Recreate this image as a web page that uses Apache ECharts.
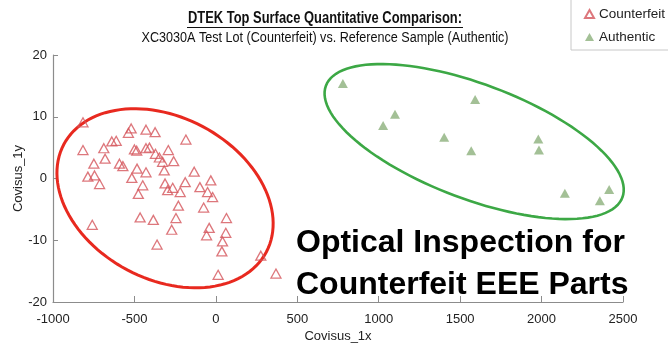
<!DOCTYPE html>
<html>
<head>
<meta charset="utf-8">
<script src="https://cdn.jsdelivr.net/npm/echarts@6/dist/echarts.min.js"></script>
<style>
html,body{margin:0;padding:0;background:#fff;}
#chart{width:668px;height:347px;}
</style>
</head>
<body>
<div id="chart"></div>
<script>
// ---- data ----
var counterfeit = [
  [-816,9.1],[-520,8.1],[-537,7.4],[-429,7.9],[-373,7.5],[-184,6.3],[-639,6.0],[-612,6.1],
  [-816,4.6],[-688,4.9],[-500,4.7],[-486,4.5],[-429,4.9],[-408,5.0],[-292,4.6],[-371,4.0],
  [-347,3.4],[-327,2.7],[-259,2.8],[-680,3.2],[-749,2.4],[-592,2.4],[-571,2.0],[-484,1.6],
  [-429,1.0],[-317,1.3],[-133,1.1],[-786,0.3],[-745,0.5],[-714,-0.9],[-516,0.1],[-449,-1.1],
  [-476,-2.5],[-312,-0.8],[-296,-1.9],[-265,-1.5],[-219,-2.2],[-188,-0.6],[-98,-1.4],[-51,-2.2],
  [-31,-0.3],[-20,-3.0],[-230,-4.4],[-75,-4.7],[-759,-7.5],[-465,-6.3],[-384,-6.7],[-245,-6.4],
  [-271,-8.3],[-361,-10.7],[-41,-8.0],[-57,-9.2],[65,-6.4],[61,-8.8],[41,-10.2],[37,-11.8],
  [14,-15.6],[276,-12.5],[369,-15.4]
];
var authentic = [
  [780,15.4],[1100,10.4],[1027,8.6],[1592,12.8],[1402,6.7],[1568,4.5],
  [1980,6.4],[1984,4.6],[2143,-2.4],[2415,-1.8],[2358,-3.6]
];
var seriesNames = ['Counterfeit', 'Authentic'];
var xTicks = { min: -1000, max: 2500, interval: 500 };
var yTicks = { min: -20, max: 20, interval: 10 };
var xName = 'Covisus_1x';
var yName = 'Covisus_1y';
var titleText = 'DTEK Top Surface Quantitative Comparison:';
var subtitleText = 'XC3030A Test Lot (Counterfeit) vs. Reference Sample (Authentic)';
var captionLines = ['Optical Inspection for', 'Counterfeit EEE Parts'];
// cluster ellipses in data units: center, first semi-axis vector, second semi-axis vector
var redEllipse = { c: [-312, -3.2], u: [622, -8.7], v: [-232, -11.6] };
var greenEllipse = { c: [1586, 5.98], u: [910.6, -9.02], v: [-120.6, -8.73] };

var FONT = 'Liberation Sans, Arial, Helvetica, sans-serif';

function ellipseSeries(e, color, width) {
  return {
    type: 'custom',
    silent: true,
    clip: false,
    z: 1,
    data: [[e.c[0], e.c[1]]],
    renderItem: function (params, api) {
      var pts = [];
      for (var i = 0; i < 120; i++) {
        var t = i / 120 * Math.PI * 2;
        var c = Math.cos(t), s = Math.sin(t);
        pts.push(api.coord([e.c[0] + c * e.u[0] + s * e.v[0], e.c[1] + c * e.u[1] + s * e.v[1]]));
      }
      return { type: 'polygon', shape: { points: pts }, style: { fill: 'none', stroke: color, lineWidth: width } };
    }
  };
}

function plain(v) { return String(v); }

var chart = echarts.init(document.getElementById('chart'), null, { renderer: 'canvas' });
chart.setOption({
  animation: false,
  backgroundColor: '#fff',
  textStyle: { fontFamily: FONT },
  grid: { left: 53, right: 45, top: 55, bottom: 45, containLabel: false, outerBoundsMode: 'none' },
  legend: {
    data: seriesNames,
    orient: 'vertical',
    left: 571, top: -3,
    padding: [10, 20, 6, 13],
    itemWidth: 9, itemHeight: 8, itemGap: 9,
    borderColor: '#c8c8c8', borderWidth: 1,
    textStyle: { fontSize: 13.5, color: '#222', fontFamily: FONT, lineHeight: 14 }
  },
  xAxis: {
    type: 'value', min: xTicks.min, max: xTicks.max, interval: xTicks.interval,
    name: xName, nameLocation: 'middle', nameGap: 28, nameMoveOverlap: false,
    nameTextStyle: { fontSize: 13, color: '#222' },
    axisLine: { onZero: false, lineStyle: { color: '#8c8c8c', width: 1.2 } },
    axisTick: { inside: true, length: 6, lineStyle: { color: '#8c8c8c' } },
    axisLabel: { fontSize: 13, color: '#222', margin: 11, formatter: plain },
    splitLine: { show: false }
  },
  yAxis: {
    type: 'value', min: yTicks.min, max: yTicks.max, interval: yTicks.interval,
    name: yName, nameLocation: 'middle', nameGap: 28, nameRotate: 90, nameMoveOverlap: false,
    nameTextStyle: { fontSize: 13, color: '#222' },
    axisLine: { show: true, onZero: false, lineStyle: { color: '#8c8c8c', width: 1.2 } },
    axisTick: { show: true, inside: true, length: 5, lineStyle: { color: '#8c8c8c' } },
    axisLabel: { fontSize: 13, color: '#222', margin: 6, formatter: plain },
    splitLine: { show: false }
  },
  graphic: [
    { type: 'text', x: 325, y: 18, scaleX: 0.76, z: 10,
      style: { text: titleText, font: 'bold 17px ' + FONT, fill: '#111', align: 'center', verticalAlign: 'middle' } },
    { type: 'line', z: 10, shape: { x1: 187, y1: 27.5, x2: 463, y2: 27.5 }, style: { stroke: '#111', lineWidth: 1.2 } },
    { type: 'text', x: 325, y: 38, scaleX: 0.9, z: 10,
      style: { text: subtitleText, font: '14px ' + FONT, fill: '#111', align: 'center', verticalAlign: 'middle' } },
    { type: 'text', x: 296, y: 243, z: 10,
      style: { text: captionLines[0], font: 'bold 32px ' + FONT, fill: '#000', align: 'left', verticalAlign: 'middle' } },
    { type: 'text', x: 296, y: 285, z: 10,
      style: { text: captionLines[1], font: 'bold 32px ' + FONT, fill: '#000', align: 'left', verticalAlign: 'middle' } }
  ],
  series: [
    ellipseSeries(redEllipse, '#e8291f', 3),
    ellipseSeries(greenEllipse, '#3ca845', 2.6),
    {
      name: seriesNames[0], type: 'scatter', data: counterfeit, z: 3,
      symbol: 'triangle', symbolSize: [10, 9],
      itemStyle: { color: 'rgba(255,255,255,0)', borderColor: '#d4555b', borderWidth: 1.3 }
    },
    {
      name: seriesNames[1], type: 'scatter', data: authentic, z: 3,
      symbol: 'triangle', symbolSize: [10, 9],
      itemStyle: { color: '#8cb07c' }
    }
  ]
});
</script>
</body>
</html>
